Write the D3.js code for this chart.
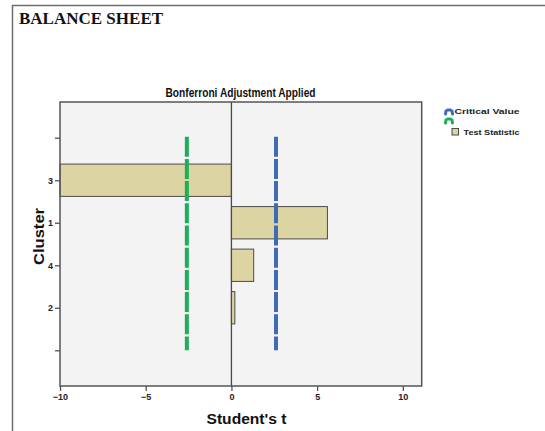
<!DOCTYPE html>
<html>
<head>
<meta charset="utf-8">
<script src="https://cdn.jsdelivr.net/npm/d3@7"></script>
<style>
  html, body { margin: 0; padding: 0; background: #fff; }
  svg { display: block; }
  text { font-family: Arial, "Liberation Sans", sans-serif; }
</style>
</head>
<body>
<svg id="chart" width="545" height="431"></svg>
<script>
// Cluster order from top to bottom, with empty slots padding each end of the axis
const slots = ["padTop", "3", "1", "4", "2", "padBottom"];
const clusters = ["3", "1", "4", "2"];
// Student's t statistic for each cluster
const tValues = [-10, 5.6, 1.3, 0.2];
// Bonferroni-adjusted critical values (lower, upper)
const criticalValues = [-2.6, 2.6];
const criticalColors = ["#1eae5a", "#3f6bb6"];
const xTicks = [-10, -5, 0, 5, 10];

const svg = d3.select("#chart");

// Page frame
svg.append("path")
  .attr("d", "M12.5,431 V5.5 H545")
  .attr("fill", "none")
  .attr("stroke", "#6e6e6e")
  .attr("stroke-width", 1.5);

svg.append("text")
  .attr("x", 19).attr("y", 24)
  .style("font-family", "'Liberation Serif', 'Times New Roman', serif")
  .style("font-weight", "bold")
  .style("font-size", "17px")
  .attr("fill", "#111")
  .text("BALANCE SHEET");

const plot = { left: 60, right: 421.7, top: 102, bottom: 386 };

const x = d3.scaleLinear().domain([-10, 11.1]).range([plot.left, plot.right]);
const y = d3.scalePoint().domain(slots).range([plot.top, plot.bottom]).padding(0.84);
const barH = y.step() * 0.76;

// Plot background
svg.append("rect")
  .attr("x", plot.left).attr("y", plot.top)
  .attr("width", plot.right - plot.left).attr("height", plot.bottom - plot.top)
  .attr("fill", "#f3f3f3");

// Bars
const bars = clusters.map((c, i) => ({ c, v: tValues[i] }));
svg.append("g").selectAll("rect").data(bars).join("rect")
  .attr("x", d => x(Math.min(0, d.v)))
  .attr("width", d => Math.abs(x(d.v) - x(0)))
  .attr("y", d => y(d.c) - barH / 2)
  .attr("height", barH)
  .attr("fill", "#dcd4a2")
  .attr("stroke", "#4b4b4b")
  .attr("stroke-width", 1);

// Zero reference line
svg.append("line")
  .attr("x1", x(0)).attr("x2", x(0))
  .attr("y1", plot.top).attr("y2", plot.bottom)
  .attr("stroke", "#4b4b4b").attr("stroke-width", 1.3);

// Critical value lines
svg.append("g").selectAll("line").data(criticalValues).join("line")
  .attr("x1", d => x(d)).attr("x2", d => x(d))
  .attr("y1", y("padTop") - 1).attr("y2", y("padBottom"))
  .attr("stroke", (d, i) => criticalColors[i])
  .attr("stroke-width", 4)
  .attr("stroke-dasharray", "20 2.2");

// Plot border
svg.append("rect")
  .attr("x", plot.left).attr("y", plot.top)
  .attr("width", plot.right - plot.left).attr("height", plot.bottom - plot.top)
  .attr("fill", "none")
  .attr("stroke", "#555").attr("stroke-width", 1.5);

// Axes
const xAxis = svg.append("g")
  .attr("transform", `translate(0,${plot.bottom})`)
  .call(d3.axisBottom(x).tickValues(xTicks).tickSize(5).tickPadding(3));
const yAxis = svg.append("g")
  .attr("transform", `translate(${plot.left},0)`)
  .call(d3.axisLeft(y).tickSize(5).tickPadding(2)
    .tickFormat(d => d.startsWith("pad") ? "" : d));
[xAxis, yAxis].forEach(g => {
  g.select(".domain").remove();
  g.selectAll("line").attr("stroke", "#555").attr("stroke-width", 1.3);
  g.selectAll("text")
    .attr("fill", "#222")
    .style("font-size", "9px")
    .style("font-weight", "bold")
    .style("font-family", "Arial, 'Liberation Sans', sans-serif");
});

// Chart title
svg.append("text")
  .attr("x", 240.5).attr("y", 96.5)
  .attr("text-anchor", "middle")
  .attr("textLength", 150).attr("lengthAdjust", "spacingAndGlyphs")
  .style("font-size", "12px").style("font-weight", "bold")
  .attr("fill", "#111")
  .text("Bonferroni Adjustment Applied");

// Axis titles
svg.append("text")
  .attr("x", 206.5).attr("y", 423.5)
  .attr("textLength", 80).attr("lengthAdjust", "spacingAndGlyphs")
  .style("font-size", "14px").style("font-weight", "bold")
  .attr("fill", "#111")
  .text("Student's t");

svg.append("text")
  .attr("transform", "translate(43.5,236.5) rotate(-90)")
  .attr("text-anchor", "middle")
  .attr("textLength", 57).attr("lengthAdjust", "spacingAndGlyphs")
  .style("font-size", "14px").style("font-weight", "bold")
  .attr("fill", "#111")
  .text("Cluster");

// Legend: arched line swatches for the critical values, box for the statistic
const legend = svg.append("g").attr("transform", "translate(444.5,0)");
criticalColors.slice().reverse().forEach((col, i) => {
  const top = 110 + i * 9;
  const g = legend.append("g")
    .attr("fill", "none").attr("stroke", col)
    .attr("stroke-width", 3).attr("stroke-linecap", "round");
  g.append("path").attr("d", `M1,${top + 4} L1.5,${top + 1}`);
  g.append("path").attr("d", `M3,${top} H6`);
  g.append("path").attr("d", `M7.5,${top + 1} L8,${top + 4}`);
});
legend.append("text")
  .attr("x", 10).attr("y", 113.5)
  .attr("textLength", 65).attr("lengthAdjust", "spacingAndGlyphs")
  .style("font-size", "8px").style("font-weight", "bold")
  .attr("fill", "#222")
  .text("Critical Value");
legend.append("rect")
  .attr("x", 7.5).attr("y", 128.5).attr("width", 6.5).attr("height", 6.5)
  .attr("fill", "#dcd4a2").attr("stroke", "#4b4b4b").attr("stroke-width", 1);
legend.append("text")
  .attr("x", 19).attr("y", 135)
  .attr("textLength", 56).attr("lengthAdjust", "spacingAndGlyphs")
  .style("font-size", "8px").style("font-weight", "bold")
  .attr("fill", "#222")
  .text("Test Statistic");
</script>
</body>
</html>
